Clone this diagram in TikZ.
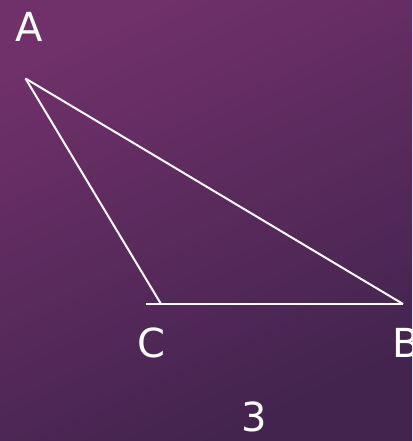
\documentclass[tikz,border=0pt]{standalone}
\usepackage{fontspec}
\setmainfont{DejaVu Sans}
\definecolor{bgtl}{HTML}{70306A}
\definecolor{bgbr}{HTML}{42244E}
\tikzset{
  edge/.style={draw=white, line width=2pt},
  lab/.style={text=white, font=\fontsize{40}{40}\selectfont, inner sep=0pt}
}
\begin{document}
\begin{tikzpicture}[x=1pt,y=1pt]
\useasboundingbox (0,0) rectangle (412,441);
\shade[top color=bgtl, bottom color=bgbr, shading angle=25] (0,0) rectangle (412,441);
\coordinate (A) at (25.5,362.5);
\coordinate (C) at (161,137);
\coordinate (L) at (146,137);
\coordinate (B) at (403,137);
\draw[edge] (A) -- (B);
\draw[edge] (A) -- (C);
\draw[edge] (L) -- (B);
\node[lab] (la) at (29,414.5) {A};
\node[lab] (lc) at (151,98.5) {C};
\node[lab] (lb) at (406,98.5) {B};
\node[lab] (l3) at (254.5,24.5) {3};
\end{tikzpicture}
\end{document}
